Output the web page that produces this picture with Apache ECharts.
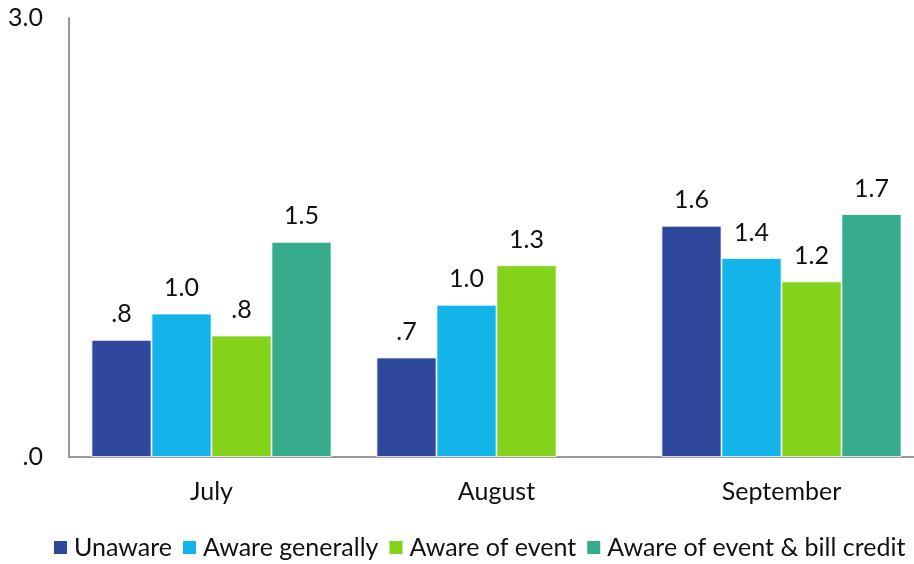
<!DOCTYPE html>
<html>
<head>
<meta charset="utf-8">
<script src="https://cdn.jsdelivr.net/npm/echarts@6/dist/echarts.min.js"></script>
<style>
  html, body { margin: 0; padding: 0; background: #fff; }
  #chart { width: 914px; height: 564px; }
</style>
</head>
<body>
<div id="chart"></div>
<script>
// Months on the category axis
const months = ['July', 'August', 'September'];

// Series values per month (August has no bill-credit reading)
const unaware = [0.80, 0.68, 1.58];
const awareGenerally = [0.98, 1.04, 1.36];
const awareOfEvent = [0.83, 1.31, 1.20];
const awareEventCredit = [1.47, null, 1.66];

const seriesNames = ['Unaware', 'Aware generally', 'Aware of event', 'Aware of event & bill credit'];
const seriesColors = ['#2F489D', '#13B4E9', '#84D21A', '#36AC8D'];
const seriesValues = [unaware, awareGenerally, awareOfEvent, awareEventCredit];

// Value axis range and ticks
const yMin = 0;
const yMax = 3;
const yStep = 3;

const FONT = 'Lato, "Open Sans", sans-serif';
const FS = 25;

// One decimal, leading zero dropped (".8", "1.0")
function fmt(v) {
  const s = Number(v).toFixed(1);
  return s.startsWith('0') ? s.slice(1) : s;
}

const chart = echarts.init(document.getElementById('chart'), null, { renderer: 'canvas' });

chart.setOption({
  animation: false,
  textStyle: { fontFamily: FONT },
  grid: { left: 69, top: 18, width: 855, height: 439, containLabel: false, outerBoundsMode: 'none' },
  legend: {
    data: seriesNames,
    bottom: -1,
    left: 47,
    width: 900,
    padding: [5, 0, 5, 5],
    itemWidth: 15,
    itemHeight: 15,
    itemGap: 9,
    icon: 'rect',
    textStyle: { fontFamily: FONT, fontSize: FS, color: '#111', padding: [0, 0, 0, 1] }
  },
  xAxis: {
    type: 'category',
    data: months,
    axisLine: { lineStyle: { color: '#999', width: 2 } },
    axisTick: { show: false },
    axisLabel: { fontFamily: FONT, fontSize: FS, color: '#111', margin: 22 }
  },
  yAxis: {
    type: 'value',
    min: yMin,
    max: yMax,
    interval: yStep,
    axisLine: { show: true, lineStyle: { color: '#999', width: 2 } },
    axisTick: { show: false },
    splitLine: { show: false },
    axisLabel: { fontFamily: FONT, fontSize: FS, color: '#111', margin: 26, formatter: fmt }
  },
  series: seriesValues.map((vals, i) => ({
    name: seriesNames[i],
    type: 'bar',
    data: vals,
    barWidth: 60,
    barGap: '0%',
    barCategoryGap: '15.8%',
    itemStyle: { color: seriesColors[i], borderColor: '#fff', borderWidth: 0.8 },
    label: {
      show: true,
      position: 'top',
      distance: 13,
      fontFamily: FONT,
      fontSize: FS,
      color: '#111',
      formatter: p => (p.value == null ? '' : fmt(p.value))
    }
  }))
});
</script>
</body>
</html>
